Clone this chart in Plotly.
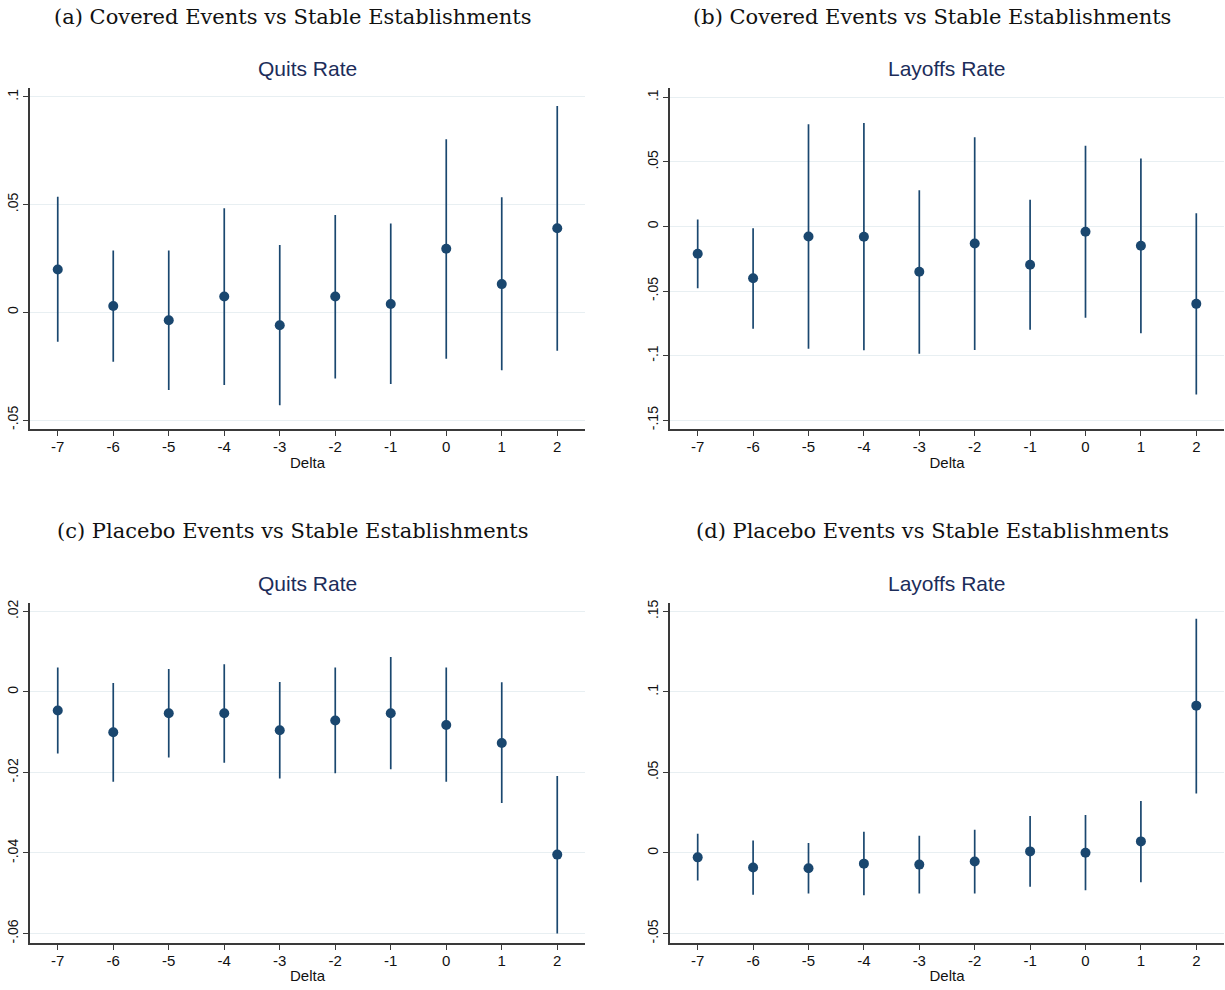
import plotly.graph_objects as go
from plotly.subplots import make_subplots

W, H = 1225, 990

delta = [-7, -6, -5, -4, -3, -2, -1, 0, 1, 2]

# (a) Covered events, quits rate
a_est = [0.0199, 0.0029, -0.0037, 0.0073, -0.0060, 0.0073, 0.0039, 0.0295, 0.0131, 0.0390]
a_lo = [-0.0137, -0.0230, -0.0361, -0.0338, -0.0431, -0.0307, -0.0333, -0.0215, -0.0269, -0.0179]
a_hi = [0.0537, 0.0287, 0.0287, 0.0483, 0.0313, 0.0452, 0.0412, 0.0804, 0.0534, 0.0958]

# (b) Covered events, layoffs rate
b_est = [-0.0211, -0.0401, -0.0077, -0.0080, -0.0350, -0.0131, -0.0296, -0.0041, -0.0149, -0.0599]
b_lo = [-0.0478, -0.0792, -0.0947, -0.0959, -0.0985, -0.0957, -0.0800, -0.0707, -0.0826, -0.1301]
b_hi = [0.0054, -0.0013, 0.0792, 0.0802, 0.0280, 0.0692, 0.0208, 0.0625, 0.0527, 0.0103]

# (c) Placebo events, quits rate
c_est = [-0.0046, -0.0100, -0.0053, -0.0053, -0.0095, -0.0071, -0.0053, -0.0082, -0.0127, -0.0404]
c_lo = [-0.0153, -0.0223, -0.0163, -0.0176, -0.0215, -0.0202, -0.0192, -0.0223, -0.0276, -0.0600]
c_hi = [0.0061, 0.0022, 0.0057, 0.0069, 0.0025, 0.0061, 0.0087, 0.0061, 0.0024, -0.0209]

# (d) Placebo events, layoffs rate
d_est = [-0.0027, -0.0090, -0.0095, -0.0066, -0.0072, -0.0053, 0.0010, 0.0002, 0.0072, 0.0915]
d_lo = [-0.0171, -0.0259, -0.0251, -0.0263, -0.0251, -0.0251, -0.0210, -0.0232, -0.0181, 0.0370]
d_hi = [0.0119, 0.0078, 0.0062, 0.0132, 0.0107, 0.0144, 0.0230, 0.0236, 0.0323, 0.1455]

panel_titles = [
    "(a) Covered Events vs Stable Establishments",
    "(b) Covered Events vs Stable Establishments",
    "(c) Placebo Events vs Stable Establishments",
    "(d) Placebo Events vs Stable Establishments",
]
sub_titles = ["Quits Rate", "Layoffs Rate", "Quits Rate", "Layoffs Rate"]

y_ticks = [
    ([-0.05, 0, 0.05, 0.1], ["-.05", "0", ".05", ".1"]),
    ([-0.15, -0.1, -0.05, 0, 0.05, 0.1], ["-.15", "-.1", "-.05", "0", ".05", ".1"]),
    ([-0.06, -0.04, -0.02, 0, 0.02], ["-.06", "-.04", "-.02", "0", ".02"]),
    ([-0.05, 0, 0.05, 0.1, 0.15], ["-.05", "0", ".05", ".1", ".15"]),
]
y_ranges = [[-0.0543, 0.1043], [-0.157, 0.1075], [-0.0624, 0.0222], [-0.056, 0.1555]]

series = [(a_est, a_lo, a_hi), (b_est, b_lo, b_hi), (c_est, c_lo, c_hi), (d_est, d_lo, d_hi)]

NAVY = "#1a476f"
TITLE_NAVY = "#1c2d5a"
GRID = "#e8eff2"
AXIS = "#3a3a3a"

# plot-area boxes in pixels: (left, right, top, bottom)
boxes = [(30, 585, 85, 428), (670, 1224, 85, 428), (30, 585, 602, 944), (670, 1224, 602, 944)]
title_pos = [(292, 14), (932, 14), (292, 530), (932, 530)]

fig = make_subplots(rows=2, cols=2)

for i, (est, lo, hi) in enumerate(series):
    r, c = i // 2 + 1, i % 2 + 1
    up = [h - e for h, e in zip(hi, est)]
    dn = [e - l for e, l in zip(est, lo)]
    fig.add_trace(
        go.Scatter(
            x=delta, y=est, mode="markers",
            marker=dict(color=NAVY, size=10),
            error_y=dict(type="data", array=up, arrayminus=dn, symmetric=False,
                         color=NAVY, thickness=1.7, width=0),
            showlegend=False,
        ),
        row=r, col=c,
    )

    L, R, T, B = boxes[i]
    xa = "xaxis" if i == 0 else f"xaxis{i + 1}"
    ya = "yaxis" if i == 0 else f"yaxis{i + 1}"
    fig.layout[xa].update(
        domain=[L / W, R / W], range=[-7.5, 2.5],
        tickvals=delta, ticktext=[str(d) for d in delta],
        ticks="outside", ticklen=5, tickwidth=1.2, tickcolor=AXIS,
        showline=True, linecolor=AXIS, linewidth=1.5,
        showgrid=False, zeroline=False, ticklabelstandoff=-2,
        tickfont=dict(family="Liberation Sans", size=15, color="#111"),
        title=dict(text="Delta", font=dict(family="Liberation Sans", size=15, color="#111"),
                   standoff=3),
    )
    fig.layout[ya].update(
        domain=[1 - B / H, 1 - T / H], range=y_ranges[i],
        tickvals=y_ticks[i][0], ticktext=y_ticks[i][1], tickangle=-90,
        ticks="outside", ticklen=5, tickwidth=1.2, tickcolor=AXIS,
        showline=True, linecolor=AXIS, linewidth=1.5,
        showgrid=True, gridcolor=GRID, gridwidth=1.2, zeroline=False,
        tickfont=dict(family="Liberation Sans", size=14, color="#111"),
    )

    tx, ty = title_pos[i]
    fig.add_annotation(
        x=tx / W, y=1 - ty / H, xref="paper", yref="paper",
        text=panel_titles[i], showarrow=False, xanchor="center", yanchor="middle",
        font=dict(family="DejaVu Serif", size=21, color="#111"),
    )
    fig.add_annotation(
        x=(L + R) / 2 / W, y=1 - (T - 19) / H, xref="paper", yref="paper",
        text=sub_titles[i], showarrow=False, xanchor="center", yanchor="middle",
        font=dict(family="Liberation Sans", size=21, color=TITLE_NAVY),
    )

fig.update_layout(
    width=W, height=H,
    margin=dict(l=0, r=0, t=0, b=0),
    paper_bgcolor="white", plot_bgcolor="white",
)

fig.write_html("out.html")
